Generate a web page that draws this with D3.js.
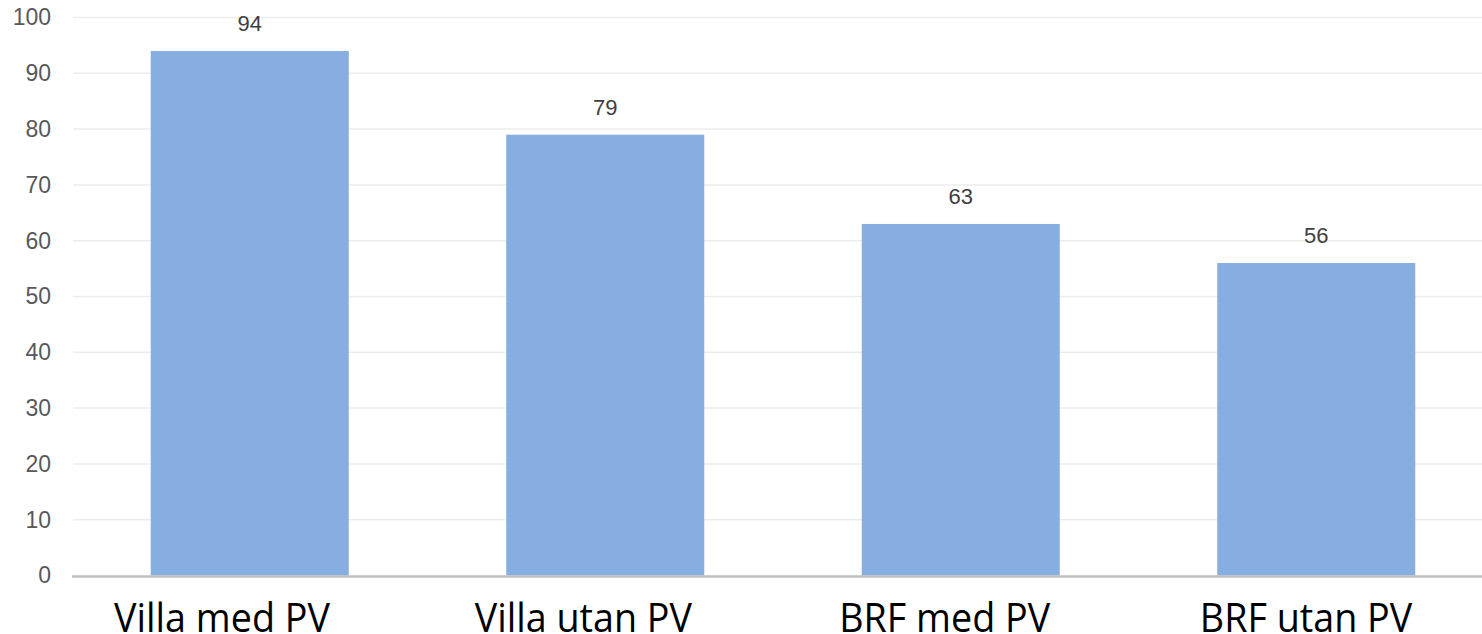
<!DOCTYPE html>
<meta charset="utf-8">
<style>
  body { margin: 0; background: #fff; }
  .tick text { font-family: "Liberation Sans", Arial, sans-serif; }
</style>
<body>
<script src="https://cdn.jsdelivr.net/npm/d3@7"></script>
<script>

    // chart data
    var categories = ["Villa med PV", "Villa utan PV", "BRF med PV", "BRF utan PV"];
    var values = [94, 79, 63, 56];
    var yTicks = [0, 10, 20, 30, 40, 50, 60, 70, 80, 90, 100];

    var width = 1482, height = 634;
    var margin = {top: 17.5, left: 72, bottom: 58.5};
    var plotRight = 1494;

    var svg = d3.select("body").append("svg")
        .attr("width", width)
        .attr("height", height);

    var x = d3.scaleBand()
        .domain(categories)
        .range([margin.left, plotRight])
        .paddingInner(0.443)
        .paddingOuter(0.2215);

    // the category labels sit a little left of the bar centres
    var xLabel = d3.scalePoint()
        .domain(categories)
        .range([222, 1306]);

    var y = d3.scaleLinear()
        .domain([0, 100])
        .range([height - margin.bottom, margin.top]);

    // grid lines
    svg.append("g")
        .selectAll("line")
        .data(yTicks.slice(1))
        .enter().append("line")
        .attr("x1", margin.left + 1)
        .attr("x2", width)
        .attr("y1", function (d) { return y(d); })
        .attr("y2", function (d) { return y(d); })
        .attr("stroke", "#ececec")
        .attr("stroke-width", 1.5);

    // y axis labels
    var yAxis = svg.append("g")
        .attr("transform", "translate(" + (margin.left - 21) + ",0)")
        .call(d3.axisLeft(y).tickValues(yTicks).tickSize(0).tickPadding(0));
    yAxis.select(".domain").remove();
    yAxis.selectAll("text")
        .attr("font-size", 23)
        .attr("fill", "#595959");

    // bars
    svg.selectAll(".bar")
        .data(values)
        .enter().append("rect")
        .attr("class", "bar")
        .attr("x", function (d, i) { return x(categories[i]); })
        .attr("width", x.bandwidth())
        .attr("y", function (d) { return y(d); })
        .attr("height", function (d) { return y(0) - y(d); })
        .attr("fill", "#86aee0");

    // value labels
    svg.selectAll(".val")
        .data(values)
        .enter().append("text")
        .attr("class", "val")
        .attr("x", function (d, i) { return x(categories[i]) + x.bandwidth() / 2; })
        .attr("y", function (d) { return y(d) - 20; })
        .attr("text-anchor", "middle")
        .attr("font-family", "Liberation Sans, Arial, sans-serif")
        .attr("font-size", 22)
        .attr("fill", "#404040")
        .text(function (d) { return d; });

    // baseline
    svg.append("line")
        .attr("x1", margin.left)
        .attr("x2", width)
        .attr("y1", y(0) + 1)
        .attr("y2", y(0) + 1)
        .attr("stroke", "#bfbfbf")
        .attr("stroke-width", 2.5);

    // category labels (squeezed a bit to look like Calibri)
    svg.selectAll(".cat")
        .data(categories)
        .enter().append("text")
        .attr("class", "cat")
        .attr("transform", function (d) { return "translate(" + xLabel(d) + ",632) scale(0.92,1)"; })
        .attr("text-anchor", "middle")
        .attr("font-family", "Open Sans, sans-serif")
        .attr("font-size", 41)
        .attr("fill", "#000")
        .text(function (d) { return d; });

</script>
</body>
